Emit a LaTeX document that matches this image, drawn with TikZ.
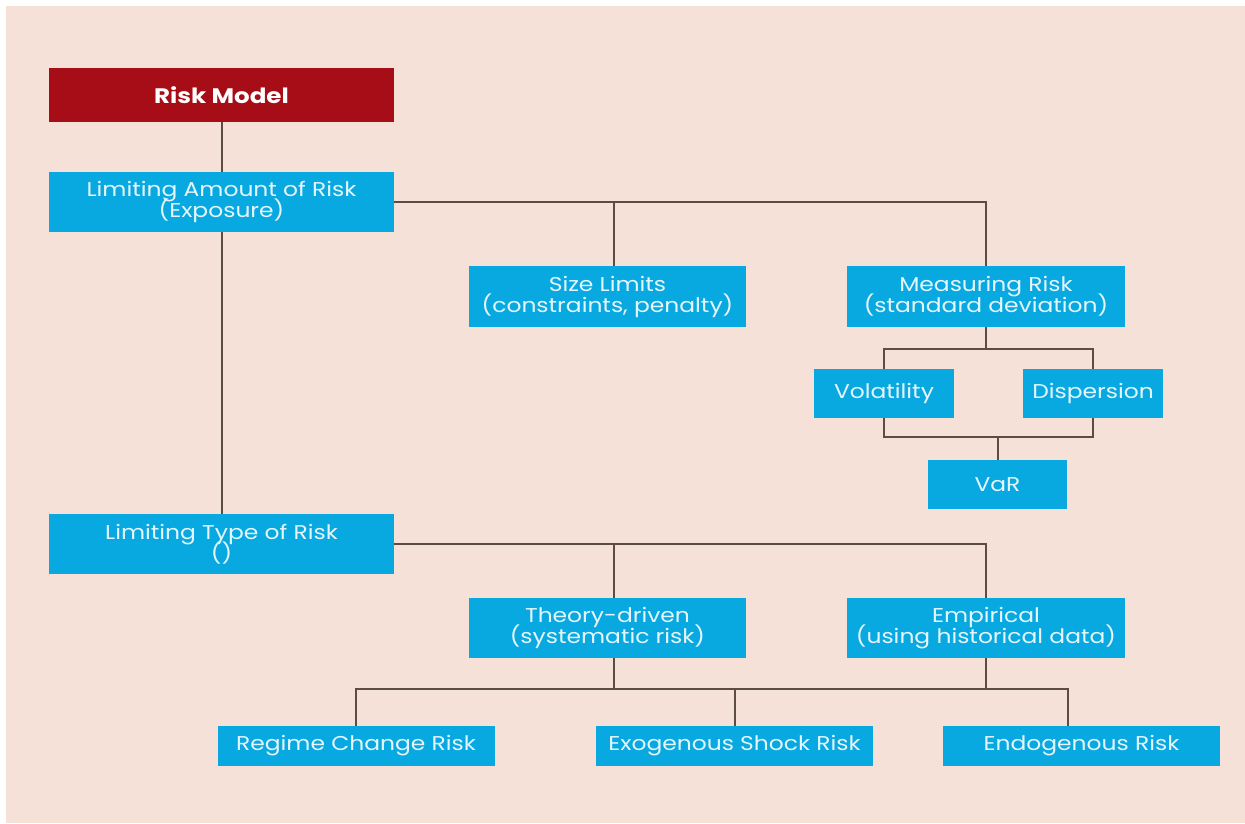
\documentclass[tikz,border=0pt]{standalone}
\usepackage{fontspec}
\setmainfont{Poppins}[FakeStretch=1.17]
\usetikzlibrary{calc}
\definecolor{bgpeach}{RGB}{245,225,215}
\definecolor{boxblue}{RGB}{8,168,224}
\definecolor{boxred}{RGB}{166,13,22}
\definecolor{linebrown}{RGB}{92,76,70}
\definecolor{txtlight}{RGB}{228,246,252}
\newcommand\mytightlines{\setlength{\lineskiplimit}{-20pt}}
\begin{document}
\begin{tikzpicture}[x=1pt,y=-1pt,
  bluebox/.style={fill=boxblue,text=txtlight,inner sep=0pt,align=center,font=\fontsize{20}{21}\selectfont\mytightlines},
  redbox/.style={fill=boxred,text=white,inner sep=0pt,align=center,font=\fontsize{21}{22}\selectfont\bfseries},
  conn/.style={draw=linebrown,line width=2pt}]
\useasboundingbox (0,0) rectangle (1245,823);
\fill[white] (0,0) rectangle (1245,823);
\fill[bgpeach] (6,6) rectangle (1245,823);
% nodes
\node[redbox,minimum width=345pt,minimum height=54pt] (rm) at (221.5,95) {Risk Model};
\node[bluebox,minimum width=345pt,minimum height=60pt] (la) at (221.5,202) {Limiting Amount of Risk\\(Exposure)};
\node[bluebox,minimum width=277pt,minimum height=61pt] (sl) at (607.5,296.5) {Size Limits\\(constraints, penalty)};
\node[bluebox,minimum width=278pt,minimum height=61pt] (mr) at (986,296.5) {Measuring Risk\\(standard deviation)};
\node[bluebox,minimum width=140pt,minimum height=49pt] (vol) at (884,393.5) {Volatility};
\node[bluebox,minimum width=140pt,minimum height=49pt] (dis) at (1093,393.5) {Dispersion};
\node[bluebox,minimum width=139pt,minimum height=49pt] (var) at (997.5,484.5) {VaR};
\node[bluebox,minimum width=345pt,minimum height=60pt] (lt) at (221.5,544) {Limiting Type of Risk\\()};
\node[bluebox,minimum width=277pt,minimum height=60pt] (td) at (607.5,628) {Theory-driven\\(systematic risk)};
\node[bluebox,minimum width=278pt,minimum height=60pt] (emp) at (986,628) {Empirical\\(using historical data)};
\node[bluebox,minimum width=277pt,minimum height=40pt] (rc) at (356,746) {Regime Change Risk};
\node[bluebox,minimum width=277pt,minimum height=40pt] (ex) at (734.5,746) {Exogenous Shock Risk};
\node[bluebox,minimum width=277pt,minimum height=40pt] (en) at (1081.5,746) {Endogenous Risk};
% connector coordinates
\coordinate (slin) at ($(sl.north)+(6.5,0)$);
\coordinate (tdin) at ($(td.north)+(6.5,0)$);
\coordinate (tdout) at ($(td.south)+(6.5,0)$);
\coordinate (mrjoin) at ($(mr.south)+(0,22)$);
\coordinate (voljoin) at ($(vol.south)+(0,19)$);
\coordinate (varin) at (var.north);
\coordinate (bjoin) at ($(tdout)+(0,31)$);
\coordinate (enin) at ($(en.north)+(-13.5,0)$);
% connectors
\draw[conn] (rm.south) -- (la.north);
\draw[conn] (la.south) -- (lt.north);
\draw[conn] (la.east) -- (la.east -| mr.north) -- (mr.north);
\draw[conn] (la.east -| slin) -- (slin);
\draw[conn] (mr.south) -- (mrjoin);
\draw[conn] (vol.north) -- (vol.north |- mrjoin) -- (dis.north |- mrjoin) -- (dis.north);
\draw[conn] (vol.south) -- (voljoin) -- (voljoin -| dis.south) -- (dis.south);
\draw[conn] (voljoin -| varin) -- (varin);
\draw[conn] (lt.east) -- (lt.east -| emp.north) -- (emp.north);
\draw[conn] (lt.east -| tdin) -- (tdin);
\draw[conn] (tdout) -- (bjoin);
\draw[conn] (emp.south) -- (emp.south |- bjoin);
\draw[conn] (rc.north) -- (rc.north |- bjoin) -- (bjoin -| enin) -- (enin);
\draw[conn] (ex.north |- bjoin) -- (ex.north);
\end{tikzpicture}
\end{document}
